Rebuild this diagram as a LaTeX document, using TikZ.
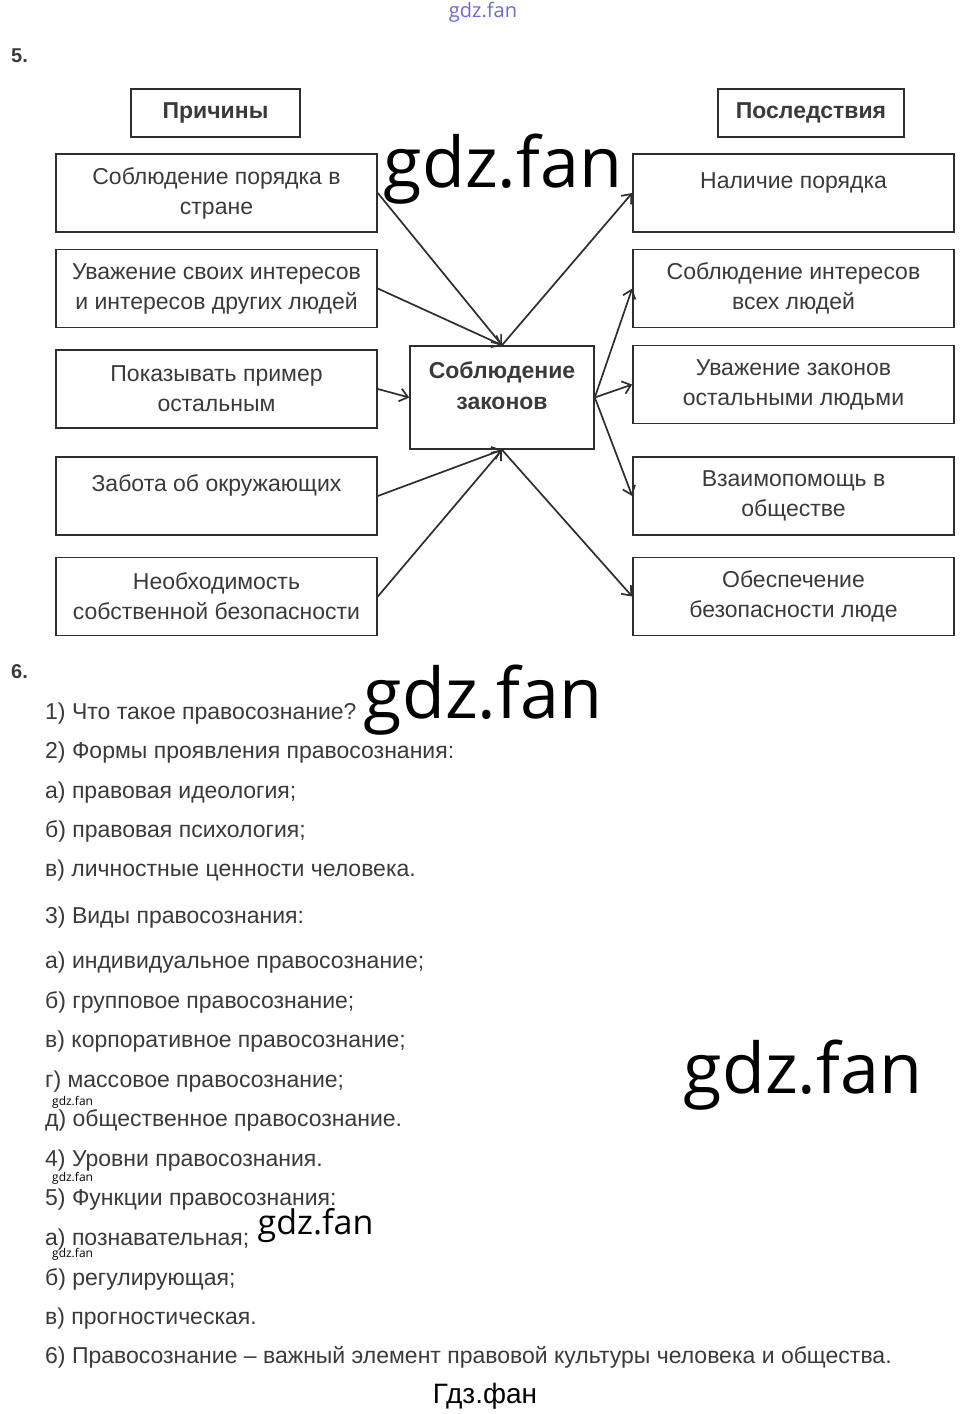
\documentclass[tikz,border=0pt]{standalone}
\usepackage{fontspec}
\setmainfont{Liberation Sans}
\newfontfamily\wmfont{Open Sans}
\usetikzlibrary{arrows.meta}
\definecolor{ink}{HTML}{3A3A3A}
\definecolor{frame}{HTML}{2E2E2E}
\definecolor{wmblue}{HTML}{6A6AD8}
\tikzset{
  box/.style={draw=frame,line width=1.6pt,minimum width=321pt,minimum height=78pt,
    inner sep=0pt,align=center,text=ink,font=\fontsize{23}{30}\selectfont},
  head/.style={draw=frame,line width=1.6pt,minimum height=48pt,inner sep=0pt,
    text=ink,font=\bfseries\fontsize{23}{26}\selectfont},
  txtline/.style={anchor=base west,inner sep=0pt,text=ink,font=\fontsize{23}{26}\selectfont},
  num/.style={anchor=west,inner sep=0pt,text=ink,font=\bfseries\fontsize{20}{22}\selectfont},
  wm/.style={anchor=base,inner sep=0pt,font=\wmfont\fontsize{70}{70}\selectfont},
  wmsmall/.style={anchor=base west,inner sep=0pt,font=\wmfont\fontsize{12}{12}\selectfont},
  link/.style={draw=frame,line width=1.7pt,->}
}
\begin{document}
\begin{tikzpicture}[x=1pt,y=-1pt,>={Straight Barb[length=8pt,width=13pt]}]
\fill[white] (0,0) rectangle (966,1414);
\useasboundingbox (0,0) rectangle (966,1414);

% task 5
\node[num] (n5) at (11,56) {5.};
\node[head,minimum width=169pt] (why) at (215.5,113) {Причины};
\node[head,minimum width=186pt] (then) at (811,113) {Последствия};

\node[box] (c1) at (216.5,193) {Соблюдение порядка в\\стране};
\node[box] (c2) at (216.5,288.5) {Уважение своих интересов\\и интересов других людей};
\node[box] (c3) at (216.5,389) {Показывать пример\\остальным};
\node[box] (c4) at (216.5,496) {Забота об окружающих\\[-5pt]\mbox{}};
\node[box] (c5) at (216.5,596.5) {Необходимость\\собственной безопасности};

\node[box,minimum width=184pt,minimum height=103pt,font=\bfseries\fontsize{23}{31}\selectfont]
  (law) at (502,397.5) {Соблюдение\\законов\\[-8pt]\mbox{}};

\node[box] (e1) at (793.5,193) {Наличие порядка\\[-5pt]\mbox{}};
\node[box] (e2) at (793.5,288.5) {Соблюдение интересов\\всех людей};
\node[box] (e3) at (793.5,384.5) {Уважение законов\\остальными людьми};
\node[box] (e4) at (793.5,496) {Взаимопомощь в\\обществе};
\node[box] (e5) at (793.5,596.5) {Обеспечение\\безопасности люде};

\draw[link] (c1.east) -- (law.north);
\draw[link] (c2.east) -- (law.north);
\draw[link] (c3.east) -- (law.west);
\draw[link] (c4.east) -- (law.south);
\draw[link] (c5.east) -- (law.south);
\draw[link] (law.north) -- (e1.west);
\draw[link] (law.east) -- (e2.west);
\draw[link] (law.east) -- (e3.west);
\draw[link] (law.east) -- (e4.west);
\draw[link] (law.south) -- (e5.west);

% task 6
\node[num] (n6) at (11,672) {6.};
\node[txtline] (q1) at (45,719) {1) Что такое правосознание?};
\node[txtline] (q2) at (45,758) {2) Формы проявления правосознания:};
\node[txtline] (q2a) at (45,798) {а) правовая идеология;};
\node[txtline] (q2b) at (45,837) {б) правовая психология;};
\node[txtline] (q2c) at (45,876) {в) личностные ценности человека.};
\node[txtline] (q3) at (45,923) {3) Виды правосознания:};
\node[txtline] (q3a) at (45,968) {а) индивидуальное правосознание;};
\node[txtline] (q3b) at (45,1008) {б) групповое правосознание;};
\node[txtline] (q3c) at (45,1047) {в) корпоративное правосознание;};
\node[txtline] (q3d) at (45,1087) {г) массовое правосознание;};
\node[txtline] (q3e) at (45,1126) {д) общественное правосознание.};
\node[txtline] (q4) at (45,1166) {4) Уровни правосознания.};
\node[txtline] (q5) at (45,1205) {5) Функции правосознания:};
\node[txtline] (q5a) at (45,1245) {а) познавательная;};
\node[txtline] (q5b) at (45,1285) {б) регулирующая;};
\node[txtline] (q5c) at (45,1324) {в) прогностическая.};
\node[txtline] (q6) at (45,1363) {6) Правосознание – важный элемент правовой культуры человека и общества.};

% watermarks
\node[wm,font=\wmfont\fontsize{20}{20}\selectfont,text=wmblue] (wtop) at (483,17) {gdz.fan};
\node[wm] (w1) at (503,187) {gdz.fan};
\node[wm] (w2) at (483,718) {gdz.fan};
\node[wm] (w3) at (803,1093) {gdz.fan};
\node[wm,font=\wmfont\fontsize{34}{34}\selectfont] (w4) at (315.5,1234) {gdz.fan};
\node[wmsmall] (s1) at (52,1105) {gdz.fan};
\node[wmsmall] (s2) at (52,1181) {gdz.fan};
\node[wmsmall] (s3) at (52,1257) {gdz.fan};
\node[anchor=base,inner sep=0pt,font=\fontsize{28}{28}\selectfont] (wbot) at (485,1403) {Гдз.фан};
\end{tikzpicture}
\end{document}
